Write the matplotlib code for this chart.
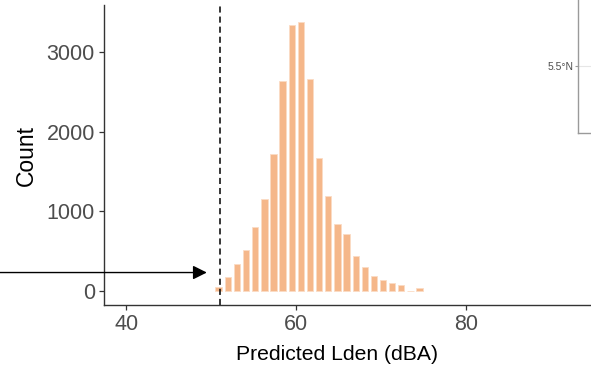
import matplotlib
matplotlib.use('Agg')
import matplotlib.pyplot as plt

plt.rcParams['font.family'] = ['Liberation Sans', 'DejaVu Sans']

# ヒストグラムのビン中心とカウント
bin_centers = [50.89, 51.97, 53.04, 54.12, 55.19, 56.27, 57.34, 58.42, 59.49,
               60.57, 61.64, 62.72, 63.79, 64.87, 65.94, 67.02, 68.09, 69.17,
               70.24, 71.32, 72.39, 73.47, 74.54]
counts = [44, 170, 333, 513, 794, 1151, 1721, 2639, 3335, 3372, 2664, 1670,
          1192, 836, 714, 441, 303, 186, 140, 102, 73, 0, 39]
threshold = 51.0       # 破線の位置
arrow_y = 228          # 矢印の高さ
arrow_tip = 49.5
x_ticks = [40, 60, 80]
y_ticks = [0, 1000, 2000, 3000]
map_tick = 5.5

W, H = 591, 367
fig = plt.figure(figsize=(W / 100, H / 100), dpi=100)
ax_w = (W - 104 + 2) / W
ax = fig.add_axes([104 / W, (H - 305) / H, ax_w, 300 / H])

ax.bar(bin_centers, counts, width=0.74, color='#F5B78A',
       edgecolor='#FBDCC4', linewidth=0.6)
ax.axvline(threshold, color='black', lw=1.1, linestyle=(0, (4, 2.6)))

ax.set_xlim(37.4, 40 + (W + 2 - 126) / 8.5)
ax.set_ylim(-180, 3590)
ax.set_xticks(x_ticks)
ax.set_yticks(y_ticks)

for s in ['top', 'right']:
    ax.spines[s].set_visible(False)
for s in ['left', 'bottom']:
    ax.spines[s].set_color('#333333')
    ax.spines[s].set_linewidth(1.0)
ax.tick_params(colors='#333333', labelcolor='#4D4D4D', labelsize=15.5,
               length=3.5, width=0.9, pad=3)

ax.set_xlabel('Predicted Lden (dBA)', fontsize=15.2, color='black', labelpad=2)
ax.xaxis.set_label_coords((337 - 104) / (W - 104 + 2), -0.135)
ax.set_ylabel('Count', fontsize=16.5, color='black', labelpad=6)

# 左からの矢印
ax.annotate('', xy=(arrow_tip, arrow_y), xycoords='data',
            xytext=(-0.02, arrow_y), textcoords=('figure fraction', 'data'),
            arrowprops=dict(arrowstyle='-|>,head_length=0.4,head_width=0.2',
                            mutation_scale=21, color='black', lw=1.0,
                            shrinkA=0, shrinkB=0),
            annotation_clip=False)

# 右上の地図の一部
ax_map = fig.add_axes([578.3 / W, (H - 132.7) / H, 0.1, 132.7 / H + 0.02])
ax_map.set_xlim(0, 1)
ax_map.set_ylim(5.0, 6.05)
ax_map.set_xticks([])
ax_map.set_yticks([map_tick])
ax_map.set_yticklabels(['5.5°N'])
ax_map.axhline(map_tick, color='#E6E6E6', lw=0.8)
for s in ['top', 'right']:
    ax_map.spines[s].set_visible(False)
for s in ['left', 'bottom']:
    ax_map.spines[s].set_color('#9A9A9A')
    ax_map.spines[s].set_linewidth(1.0)
ax_map.tick_params(colors='#9A9A9A', labelcolor='#4D4D4D', labelsize=7.5,
                   length=2, width=0.8, pad=1.5)
ax_map.patch.set_alpha(0)

fig.savefig('out.png', dpi=100)
